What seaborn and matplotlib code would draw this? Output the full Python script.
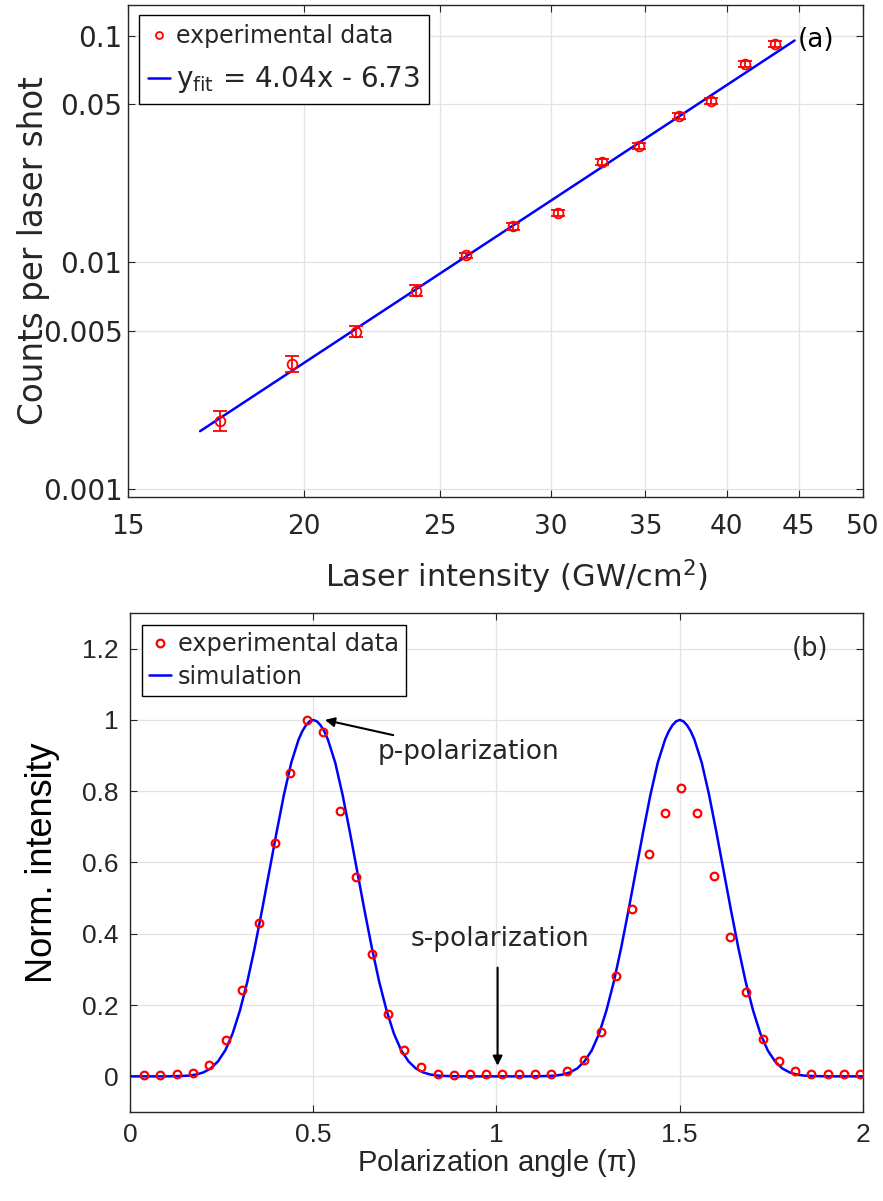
import matplotlib
matplotlib.use("Agg")
import matplotlib.pyplot as plt
from matplotlib.lines import Line2D
from matplotlib.ticker import NullLocator, FixedLocator, FixedFormatter
import seaborn as sns
import pandas as pd

# panel (a): counts vs laser intensity
intensity = [17.44, 19.63, 21.78, 24.03, 26.1, 28.18, 30.34, 32.6, 34.66, 36.96, 39.0, 41.2, 43.3]
counts = [0.0020, 0.00357, 0.00495, 0.00752, 0.01074, 0.01443, 0.01647, 0.0277, 0.0326,
          0.0443, 0.0516, 0.0752, 0.0922]
counts_err = [0.0002, 0.0003, 0.00027, 0.0004, 0.0003, 0.00045, 0.0005, 0.0008, 0.001,
              0.0013, 0.0015, 0.0022, 0.0027]
fit_x = [16.88, 44.7]
fit_y = [0.0018, 0.0955]

# panel (b): polarization scan
angle = [0.039, 0.082, 0.127, 0.173, 0.216, 0.262, 0.306, 0.351, 0.395, 0.437, 0.484, 0.527,
         0.572, 0.617, 0.660, 0.705, 0.748, 0.794, 0.840, 0.883, 0.927, 0.971, 1.016, 1.061,
         1.105, 1.150, 1.193, 1.239, 1.284, 1.326, 1.371, 1.415, 1.460, 1.504, 1.548, 1.593,
         1.636, 1.680, 1.726, 1.770, 1.814, 1.858, 1.904, 1.949, 1.992]
norm_int = [0.003, 0.003, 0.006, 0.010, 0.033, 0.103, 0.243, 0.429, 0.654, 0.852, 0.999, 0.966,
            0.745, 0.559, 0.343, 0.175, 0.073, 0.025, 0.008, 0.003, 0.006, 0.006, 0.006, 0.006,
            0.006, 0.006, 0.016, 0.045, 0.125, 0.282, 0.469, 0.625, 0.740, 0.809, 0.739, 0.561,
            0.392, 0.237, 0.106, 0.044, 0.016, 0.006, 0.006, 0.006, 0.006]

sim_x = [0.0, 0.10,
         0.14, 0.16, 0.18, 0.20, 0.22, 0.24, 0.26, 0.28, 0.30, 0.32, 0.34, 0.36, 0.38, 0.40,
         0.42, 0.44, 0.46, 0.47, 0.48, 0.49, 0.50, 0.51, 0.52, 0.53, 0.54, 0.56, 0.58, 0.60,
         0.62, 0.64, 0.66, 0.68, 0.70, 0.72, 0.74, 0.76, 0.78, 0.80, 0.82, 0.84, 0.86,
         0.90, 1.10,
         1.14, 1.16, 1.18, 1.20, 1.22, 1.24, 1.26, 1.28, 1.30, 1.32, 1.34, 1.36, 1.38, 1.40,
         1.42, 1.44, 1.46, 1.47, 1.48, 1.49, 1.50, 1.51, 1.52, 1.53, 1.54, 1.56, 1.58, 1.60,
         1.62, 1.64, 1.66, 1.68, 1.70, 1.72, 1.74, 1.76, 1.78, 1.80, 1.82, 1.84, 1.86,
         1.90, 2.0]
sim_y = [0.0, 0.0,
         0.001, 0.002, 0.005, 0.011, 0.022, 0.042, 0.073, 0.12, 0.185, 0.265, 0.36, 0.465,
         0.575, 0.685, 0.79, 0.88, 0.945, 0.968, 0.985, 0.996, 1.0, 0.996, 0.985, 0.968, 0.945,
         0.88, 0.79, 0.685, 0.575, 0.465, 0.36, 0.265, 0.185, 0.12, 0.073, 0.042, 0.022, 0.011,
         0.005, 0.002, 0.001,
         0.0, 0.0,
         0.001, 0.002, 0.005, 0.011, 0.022, 0.042, 0.073, 0.12, 0.185, 0.265, 0.36, 0.465,
         0.575, 0.685, 0.79, 0.88, 0.945, 0.968, 0.985, 0.996, 1.0, 0.996, 0.985, 0.968, 0.945,
         0.88, 0.79, 0.685, 0.575, 0.465, 0.36, 0.265, 0.185, 0.12, 0.073, 0.042, 0.022, 0.011,
         0.005, 0.002, 0.001,
         0.0, 0.0]

sns.set_style("ticks")
plt.rcParams['font.family'] = ['DejaVu Sans']
plt.rcParams['mathtext.default'] = 'regular'
dark = '#262626'
gridc = '#e3e3e3'

fig = plt.figure(figsize=(8.83, 12.01), dpi=100)
W, H = 883, 1201
ax1 = fig.add_axes([128 / W, 1 - 497 / H, (863 - 128) / W, (497 - 5) / H])
ax2 = fig.add_axes([130 / W, 1 - 1112 / H, (863 - 130) / W, (1112 - 613) / H])

# ---- panel (a)
df_fit = pd.DataFrame({'x': fit_x, 'y': fit_y})
ax1.set_xscale('log')
ax1.set_yscale('log')
ax1.errorbar(intensity, counts, yerr=counts_err, fmt='o', color='red', mfc='none',
             ms=7, mew=1.3, elinewidth=1.3, capsize=5, capthick=1.3, zorder=3)
sns.lineplot(data=df_fit, x='x', y='y', ax=ax1, color='blue', lw=1.8, zorder=2,
             legend=False)
ax1.set_xlim(15, 50)
ax1.set_ylim(0.000922, 0.137)
xt = [15, 20, 25, 30, 35, 40, 45, 50]
yt = [0.001, 0.005, 0.01, 0.05, 0.1]
ax1.xaxis.set_major_locator(FixedLocator(xt))
ax1.xaxis.set_major_formatter(FixedFormatter([str(v) for v in xt]))
ax1.yaxis.set_major_locator(FixedLocator(yt))
ax1.yaxis.set_major_formatter(FixedFormatter(['0.001', '0.005', '0.01', '0.05', '0.1']))
ax1.xaxis.set_minor_locator(NullLocator())
ax1.yaxis.set_minor_locator(NullLocator())
ax1.set_xlabel('Laser intensity (GW/cm$^2$)', fontsize=22, color=dark)
ax1.set_ylabel('Counts per laser shot', fontsize=23.5, color=dark)
ax1.xaxis.set_label_coords(0.528, -0.123)
ax1.yaxis.set_label_coords(-0.106, 0.5)
ax1.text(44.9, 0.0955, '(a)', fontsize=19, va='center', ha='left', color='black')
h1 = [Line2D([], [], ls='none', marker='o', color='red', mfc='none', ms=5, mew=1.3),
      Line2D([], [], color='blue', lw=1.8)]
leg1 = ax1.legend(h1, ['experimental data', r'y$_{\mathrm{fit}}$ = 4.04x - 6.73'],
                  loc='upper left', bbox_to_anchor=(0.015, 0.98), fontsize=17,
                  frameon=True, fancybox=False, edgecolor='black', framealpha=1,
                  handlelength=0.9, handletextpad=0.25, borderpad=0.4, labelspacing=0.65,
                  borderaxespad=0)
leg1.get_texts()[1].set_fontsize(20)
leg1.get_frame().set_linewidth(1.0)

# ---- panel (b)
df_sim = pd.DataFrame({'x': sim_x, 'y': sim_y})
df_exp = pd.DataFrame({'x': angle, 'y': norm_int})
ax2.plot(df_exp['x'], df_exp['y'], 'o', color='red', mfc='none', ms=5.5, mew=1.6,
         label='experimental data', zorder=3)
sns.lineplot(data=df_sim, x='x', y='y', ax=ax2, color='blue', lw=1.8,
             label='simulation', zorder=2)
ax2.set_xlim(0, 2)
ax2.set_ylim(-0.1, 1.3)
ax2.set_xticks([0, 0.5, 1, 1.5, 2])
ax2.set_xticklabels(['0', '0.5', '1', '1.5', '2'])
ax2.set_yticks([0, 0.2, 0.4, 0.6, 0.8, 1, 1.2])
ax2.set_yticklabels(['0', '0.2', '0.4', '0.6', '0.8', '1', '1.2'])
ax2.set_xlabel('Polarization angle ($\\pi$)', fontsize=21, color=dark, labelpad=0,
               family='Liberation Sans')
ax2.set_ylabel('Norm. intensity', fontsize=26, color='black',
               family='Liberation Sans')
ax2.yaxis.set_label_coords(-0.095, 0.5)
ax2.annotate('p-polarization', xy=(0.532, 1.0), xytext=(0.677, 0.91), fontsize=19,
             va='center', ha='left',
             arrowprops=dict(arrowstyle='-|>', color='black', lw=1.5,
                             shrinkA=2, shrinkB=0, mutation_scale=14))
ax2.annotate('', xy=(1.003, 0.03), xytext=(1.003, 0.305),
             arrowprops=dict(arrowstyle='-|>', color='black', lw=1.5,
                             shrinkA=0, shrinkB=0, mutation_scale=14))
ax2.text(1.01, 0.385, 's-polarization', fontsize=19, va='center', ha='center')
ax2.text(1.855, 1.2, '(b)', fontsize=18.5, va='center', ha='center')
leg2 = ax2.legend(loc='upper left', bbox_to_anchor=(0.016, 0.976), fontsize=17.3,
                  frameon=True, fancybox=False, edgecolor='black', framealpha=1,
                  handlelength=0.9, handletextpad=0.3, borderpad=0.3, labelspacing=0.35,
                  borderaxespad=0)
leg2.get_frame().set_linewidth(1.0)

for ax in (ax1, ax2):
    ax.grid(True, color=gridc, lw=0.9)
    ax.set_axisbelow(True)
    ax.tick_params(direction='in', length=5, width=0.8, top=True, right=True,
                   colors=dark)
    for s in ax.spines.values():
        s.set_color(dark)
        s.set_linewidth(1.0)
ax1.tick_params(axis='x', labelsize=19, pad=12)
ax1.tick_params(axis='y', labelsize=20, pad=4)
ax2.tick_params(axis='both', labelsize=19, pad=8)
for lab in ax2.get_xticklabels() + ax2.get_yticklabels():
    lab.set_family('Liberation Sans')

fig.savefig('out.png', dpi=100)
